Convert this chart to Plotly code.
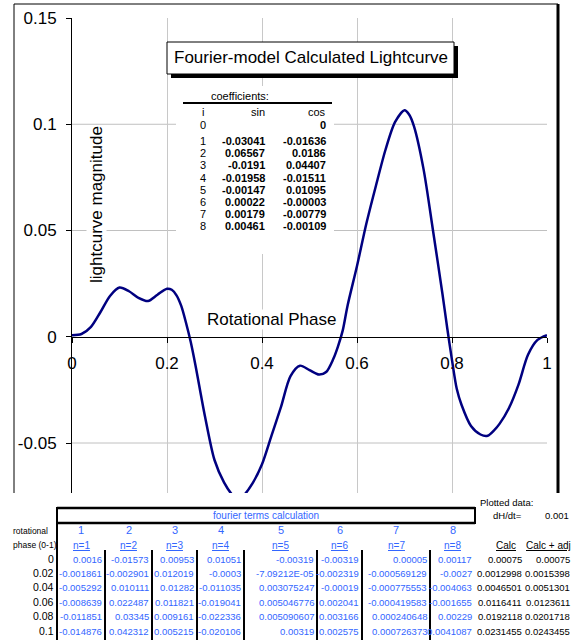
import plotly.graph_objects as go

W, H = 574, 640

# ---- lightcurve ----
phase = [0.00, 0.02, 0.04, 0.06, 0.08, 0.10, 0.12, 0.14, 0.16, 0.18, 0.20, 0.21, 0.22, 0.23,
         0.24, 0.25, 0.26, 0.28, 0.30, 0.32, 0.34, 0.35, 0.36, 0.38, 0.40, 0.42, 0.44, 0.46,
         0.48, 0.50, 0.52, 0.535, 0.55, 0.56, 0.57, 0.58, 0.60, 0.62, 0.64, 0.66, 0.68, 0.70,
         0.71, 0.72, 0.74, 0.76, 0.78, 0.79, 0.80, 0.81, 0.82, 0.84, 0.86, 0.875, 0.89, 0.90,
         0.92, 0.94, 0.96, 0.98, 1.00]
magnitude = [0.00075, 0.0013, 0.00465, 0.01164, 0.01921, 0.02315, 0.0214, 0.0183, 0.0168, 0.0198,
             0.0226, 0.0221, 0.0195, 0.0145, 0.0066, -0.0025, -0.0135, -0.0375, -0.0580, -0.0685,
             -0.0750, -0.0765, -0.0750, -0.0690, -0.0600, -0.0465, -0.0330, -0.0185, -0.0136,
             -0.0157, -0.0178, -0.0166, -0.0105, -0.0045, 0.0030, 0.0145, 0.0333, 0.0535, 0.0712,
             0.0880, 0.1010, 0.1066, 0.1045, 0.0990, 0.0790, 0.0500, 0.0200, 0.0040, -0.0110,
             -0.0245, -0.0320, -0.0420, -0.0460, -0.0466, -0.0437, -0.0410, -0.0335, -0.0225,
             -0.0085, -0.0015, 0.00075]

x_ticks = [0, 0.2, 0.4, 0.6, 0.8, 1]
x_ticktext = ["0", "0.2", "0.4", "0.6", "0.8", "1"]
y_ticks = [-0.05, 0, 0.05, 0.1, 0.15]
y_ticktext = ["-0.05", "0", "0.05", "0.1", "0.15"]
y_grid = [-0.05, 0.05, 0.1]

# ---- coefficients box ----
coef_i = ["0", "1", "2", "3", "4", "5", "6", "7", "8"]
coef_sin = ["", "-0.03041", "0.06567", "-0.0191", "-0.01958", "-0.00147", "0.00022", "0.00179", "0.00461"]
coef_cos = ["0", "-0.01636", "0.0186", "0.04407", "-0.01511", "0.01095", "-0.00003", "-0.00779", "-0.00109"]

# ---- spreadsheet below ----
table_phase = ["0", "0.02", "0.04", "0.06", "0.08", "0.1"]
terms_n1 = ["0.0016", "-0.001861", "-0.005292", "-0.008639", "-0.011851", "-0.014876"]
terms_n2 = ["-0.01573", "-0.002901", "0.010111", "0.022487", "0.03345", "0.042312"]
terms_n3 = ["0.00953", "0.012019", "0.01282", "0.011821", "0.009161", "0.005215"]
terms_n4 = ["0.01051", "-0.0003", "-0.011035", "-0.019041", "-0.022336", "-0.020106"]
terms_n5 = ["-0.00319", "-7.09212E-05", "0.003075247", "0.005046776", "0.005090607", "0.00319"]
terms_n6 = ["-0.00319", "-0.002319", "-0.00019", "0.002041", "0.003166", "0.002575"]
terms_n7 = ["0.00005", "-0.000569129", "-0.000775553", "-0.000419583", "0.000240648", "0.000726373"]
terms_n8 = ["0.00117", "-0.0027", "-0.004063", "-0.001655", "0.00229", "0.0041087"]
calc = ["0.00075", "0.0012998", "0.0046501", "0.0116411", "0.0192118", "0.0231455"]
calc_adj = ["0.00075", "0.0015398", "0.0051301", "0.0123611", "0.0201718", "0.0243455"]
dh_dt = "0.001"

ARIAL = "Arial, Liberation Sans, sans-serif"
SMALL = "Arial, Liberation Sans, sans-serif"
BLUE = "#3366ff"
TS = 9.5  # spreadsheet font size


def px(x):
    return x / W


def py(y):
    return 1 - y / H


annotations = []
shapes = []


def txt(x, y, s, size, color="black", anchor="center", family=ARIAL, **kw):
    annotations.append(dict(x=px(x), y=py(y), xref="paper", yref="paper", text=s,
                            showarrow=False, xanchor=anchor, yanchor="middle",
                            borderpad=0,
                            font=dict(family=family, size=size, color=color), **kw))


def line(x0, y0, x1, y1, width=1, color="black", layer="above"):
    shapes.append(dict(type="line", xref="paper", yref="paper", x0=px(x0), y0=py(y0),
                       x1=px(x1), y1=py(y1), line=dict(color=color, width=width), layer=layer))


def rect(x0, y0, x1, y1, fill, lc=None, lw=0, layer="above"):
    shapes.append(dict(type="rect", xref="paper", yref="paper", x0=px(x0), y0=py(y0),
                       x1=px(x1), y1=py(y1), fillcolor=fill,
                       line=dict(color=lc or fill, width=lw), layer=layer))


fig = go.Figure()
fig.add_trace(go.Scatter(x=phase, y=magnitude, mode="lines",
                         line=dict(color="#000080", width=2.5, shape="spline", smoothing=0.8),
                         hoverinfo="skip", showlegend=False))

# horizontal gridlines
for v in y_grid:
    shapes.append(dict(type="line", xref="x", yref="y", x0=0, x1=1, y0=v, y1=v,
                       line=dict(color="#c0c0c0", width=1), layer="below"))

# chart area border
line(14, 4, 558, 4, 1)
line(14, 4, 14, 493, 1)
line(558, 4, 558, 493, 3)

# title box with shadow
rect(171, 46, 458, 78, "black")
rect(167, 42, 454, 74, "white", "black", 1)
txt(310.5, 58, "Fourier-model Calculated Lightcurve", 17)

# coefficients box
rect(176, 86, 334, 254, "white")
txt(240, 96, "coefficients:", 11)
line(183, 103, 332, 103, 2)
row_y = [125, 141, 153, 165, 178, 190, 202, 214, 226]
txt(203, 112, "i", 11)
txt(266, 112, "sin", 11, anchor="right")
txt(327, 112, "cos", 11, anchor="right")
for k in range(len(coef_i)):
    txt(203, row_y[k], coef_i[k], 11)
    if coef_sin[k]:
        txt(266, row_y[k], "<b>%s</b>" % coef_sin[k], 11, anchor="right")
    txt(327, row_y[k], "<b>%s</b>" % coef_cos[k], 11, anchor="right")

# axis labels inside the chart
txt(96, 205, "lightcurve magnitude", 17, textangle=-90, bgcolor="white")
txt(271, 319, "Rotational Phase", 17, bgcolor="white")

# ---- spreadsheet ----
line(57, 508, 475, 508, 2.5)
line(57, 523, 475, 523, 2.5)
line(57, 507, 57, 640, 2)
line(475, 507, 475, 524, 2)
txt(266, 515, "fourier terms calculation", 10, color=BLUE, family=SMALL)
txt(12, 531, "rotational", 8.5, anchor="left", family=SMALL)
txt(12, 545, "phase (0-1)", 8.5, anchor="left", family=SMALL)
txt(479, 502, "Plotted data:", 9.5, anchor="left", family=SMALL)
txt(523, 515, "dH/dt=", 9.5, anchor="right", family=SMALL)
txt(570, 515, dh_dt, 9.5, anchor="right", family=SMALL)

col_edges = [57, 105, 152, 197, 244, 317, 362, 430, 475]
for x in col_edges[1:-1]:
    line(x, 550, x, 640, 2)

data_y = [559, 573, 587, 602, 616, 631]
cols = [terms_n1, terms_n2, terms_n3, terms_n4, terms_n5, terms_n6, terms_n7, terms_n8]
for c, vals in enumerate(cols):
    left, right = col_edges[c], col_edges[c + 1]
    mid = (left + right) / 2
    txt(mid, 530, str(c + 1), 11, color=BLUE, family=SMALL)
    txt(mid, 545, "<u>n=%d</u>" % (c + 1), 10, color=BLUE, family=SMALL)
    for r, v in enumerate(vals):
        txt(right - 2, data_y[r], v, TS, color=BLUE, anchor="right", family=SMALL)

for r, v in enumerate(table_phase):
    txt(55, data_y[r], v, 10.5, anchor="right", family=SMALL)
    txt(523, data_y[r], calc[r], TS, anchor="right", family=SMALL)
    txt(571, data_y[r], calc_adj[r], TS, anchor="right", family=SMALL)
txt(506, 545, "<u>Calc</u>", 10, family=SMALL)
txt(548, 545, "<u>Calc + adj</u>", 10, family=SMALL)

y_top, y_bot = 18, 493
zero_px = 336.75
px_per_unit = (443 - 18) / 0.2
y_min = -(y_bot - zero_px) / px_per_unit

fig.update_layout(
    width=W, height=H, autosize=False,
    margin=dict(l=0, r=0, t=0, b=0, pad=0, autoexpand=False),
    paper_bgcolor="white", plot_bgcolor="white",
    showlegend=False,
    xaxis=dict(domain=[px(72), px(547)], range=[0, 1], anchor="free", position=py(zero_px),
               tickvals=x_ticks, ticktext=x_ticktext, showgrid=True, gridcolor="#c8c8c8",
               gridwidth=1, zeroline=False, showline=True, linecolor="black", linewidth=1,
               ticks="outside", ticklen=5, tickcolor="black", ticklabelstandoff=6,
               automargin=False,
               tickfont=dict(family=ARIAL, size=17, color="black"), fixedrange=True),
    yaxis=dict(domain=[py(y_bot), py(y_top)], range=[y_min, 0.15], tickvals=y_ticks,
               ticktext=y_ticktext, showgrid=False, zeroline=False, showline=True,
               linecolor="black", linewidth=1, ticks="outside", ticklen=5, tickcolor="black",
               ticklabelstandoff=6, automargin=False,
               tickfont=dict(family=ARIAL, size=17, color="black"), fixedrange=True),
    annotations=annotations,
    shapes=shapes,
)

fig.write_html("out.html", config={"responsive": False, "displayModeBar": False},
               post_script="document.body.style.margin='0px';")
